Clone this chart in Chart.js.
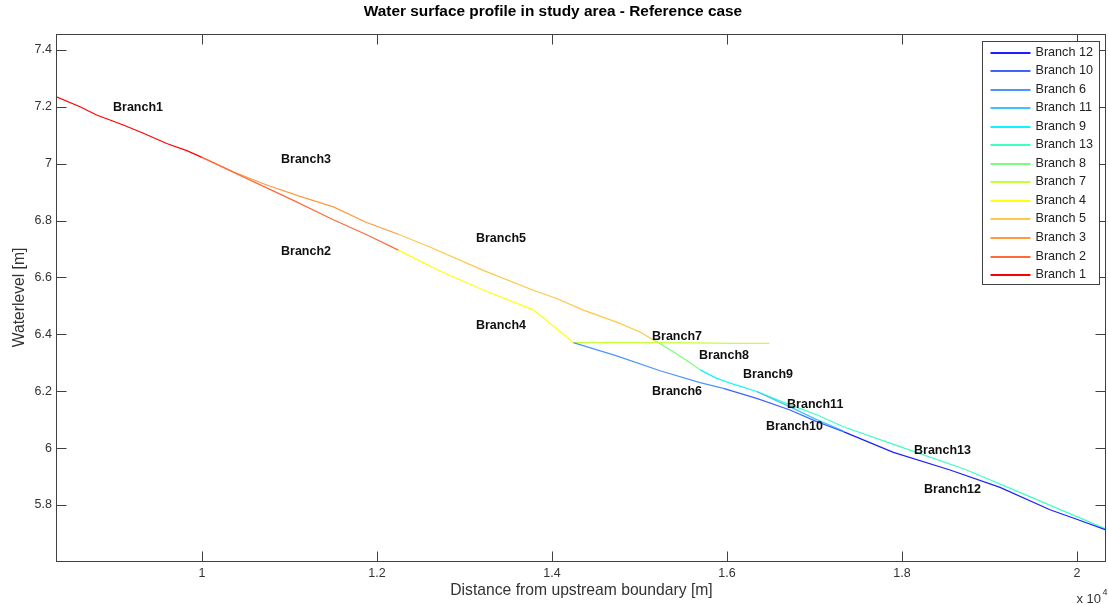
<!DOCTYPE html>
<html>
<head>
<meta charset="utf-8">
<script src="https://cdn.jsdelivr.net/npm/chart.js@4/dist/chart.umd.min.js"></script>
<style>
  html, body { margin: 0; padding: 0; background: #fff; }
  #wrap { width: 1108px; height: 604px; }
</style>
</head>
<body>
<div id="wrap"><canvas id="profileChart"></canvas></div>
<script>
// distance [m] / water level [m] per branch
const branch1X = [8343, 8606, 8796, 9101, 9330, 9597, 9826, 10000];
const branch1Y = [7.234, 7.200, 7.171, 7.136, 7.107, 7.071, 7.046, 7.022];
const branch2X = [10000, 10587, 11050, 11501, 11883, 12244];
const branch2Y = [7.022, 6.937, 6.870, 6.803, 6.750, 6.696];
const branch3X = [10000, 10370, 10740, 11120, 11501, 11882, 12244];
const branch3Y = [7.022, 6.970, 6.925, 6.885, 6.848, 6.793, 6.752];
const branch4X = [12244, 12700, 13215, 13786, 14091, 14244];
const branch4Y = [6.696, 6.625, 6.556, 6.486, 6.410, 6.371];
const branch5X = [12244, 12644, 13215, 13786, 14053, 14358, 14739, 15006, 15197];
const branch5Y = [6.752, 6.702, 6.625, 6.555, 6.526, 6.485, 6.443, 6.408, 6.373];
const branch6X = [14244, 14739, 15235, 15692, 15958];
const branch6Y = [6.371, 6.324, 6.272, 6.230, 6.210];
const branch7X = [14244, 15000, 15600, 16100, 16484];
const branch7Y = [6.371, 6.371, 6.370, 6.368, 6.368];
const branch8X = [15197, 15387, 15577, 15692];
const branch8Y = [6.374, 6.339, 6.300, 6.275];
const branch9X = [15692, 15882, 16100, 16339];
const branch9Y = [6.275, 6.245, 6.222, 6.199];
const branch10X = [15958, 16339, 16720, 17025, 17330];
const branch10Y = [6.210, 6.175, 6.134, 6.093, 6.058];
const branch11X = [16339, 16720, 17025, 17330];
const branch11Y = [6.199, 6.145, 6.100, 6.060];
const branch12X = [17330, 17901, 18549, 19120, 19691, 19996, 20331];
const branch12Y = [6.058, 5.985, 5.923, 5.862, 5.783, 5.750, 5.712];
const branch13X = [16339, 16720, 17025, 17330, 17977, 18740, 19500, 19996, 20331];
const branch13Y = [6.199, 6.152, 6.117, 6.075, 6.005, 5.923, 5.824, 5.759, 5.716];

const branchNames = ['Branch 1', 'Branch 2', 'Branch 3', 'Branch 4', 'Branch 5', 'Branch 6', 'Branch 7',
  'Branch 8', 'Branch 9', 'Branch 10', 'Branch 11', 'Branch 12', 'Branch 13'];
const branchXs = [branch1X, branch2X, branch3X, branch4X, branch5X, branch6X, branch7X,
  branch8X, branch9X, branch10X, branch11X, branch12X, branch13X];
const branchYs = [branch1Y, branch2Y, branch3Y, branch4Y, branch5Y, branch6Y, branch7Y,
  branch8Y, branch9Y, branch10Y, branch11Y, branch12Y, branch13Y];
const legendOrder = [12, 10, 6, 11, 9, 13, 8, 7, 4, 5, 3, 2, 1];

// text labels in the plot, at data coordinates
const labelText = ['Branch1', 'Branch3', 'Branch2', 'Branch5', 'Branch4', 'Branch7', 'Branch8',
  'Branch9', 'Branch6', 'Branch11', 'Branch10', 'Branch13', 'Branch12'];
const labelX = [8983, 10903, 10903, 13131, 13131, 15143, 15680, 16183, 15143, 16686, 16446, 18137, 18251];
const labelY = [7.199, 7.013, 6.692, 6.738, 6.432, 6.393, 6.326, 6.259, 6.199, 6.154, 6.076, 5.992, 5.854];

const xTicks = [10000, 12000, 14000, 16000, 18000, 20000];
const yTicks = [5.8, 6, 6.2, 6.4, 6.6, 6.8, 7, 7.2, 7.4];

const colors = {
  1: '#ff0000', 2: '#ff6a3c', 3: '#ff9a40', 4: '#ffff10', 5: '#ffc848',
  6: '#4a94ff', 7: '#c4ff3a', 8: '#78ff78', 9: '#10f4ff', 10: '#3c64ff',
  11: '#40c0ff', 12: '#1e1eff', 13: '#3cffc4'
};

Chart.defaults.font.family = "'Liberation Sans', Arial, sans-serif";
Chart.defaults.color = '#333';

const datasets = branchNames.map((name, i) => ({
  label: name,
  data: branchXs[i].map((x, j) => ({ x: x, y: branchYs[i][j] })),
  borderColor: colors[i + 1],
  backgroundColor: colors[i + 1],
  borderWidth: 1.2,
  pointRadius: 0,
  tension: 0,
  fill: false
}));

const matlabAxes = {
  id: 'matlabAxes',
  afterDatasetsDraw(chart) {
    const { ctx, chartArea: a, scales: { x, y } } = chart;
    ctx.save();
    // branch names
    ctx.fillStyle = '#111';
    ctx.font = "bold 12.5px 'Liberation Sans', Arial, sans-serif";
    ctx.textAlign = 'left';
    ctx.textBaseline = 'middle';
    labelText.forEach((t, i) => {
      ctx.fillText(t, x.getPixelForValue(labelX[i]), y.getPixelForValue(labelY[i]));
    });
    // box and inward ticks
    ctx.strokeStyle = '#404040';
    ctx.lineWidth = 1;
    const L = Math.round(a.left) - 0.5, R = Math.round(a.right) - 0.5;
    const T = Math.round(a.top) + 0.5, B = Math.round(a.bottom) + 0.5;
    ctx.strokeRect(L, T, R - L, B - T);
    ctx.beginPath();
    xTicks.forEach(v => {
      const px = Math.round(x.getPixelForValue(v)) + 0.5;
      ctx.moveTo(px, B); ctx.lineTo(px, B - 10);
      ctx.moveTo(px, T); ctx.lineTo(px, T + 10);
    });
    yTicks.forEach(v => {
      const py = Math.round(y.getPixelForValue(v)) + 0.5;
      ctx.moveTo(L, py); ctx.lineTo(L + 10, py);
      ctx.moveTo(R, py); ctx.lineTo(R - 10, py);
    });
    ctx.stroke();
    // legend box
    const bx = R - 123, by = T + 7, bw = 117, bh = 243;
    ctx.fillStyle = '#fff';
    ctx.fillRect(bx, by, bw, bh);
    ctx.strokeRect(bx, by, bw, bh);
    ctx.font = "12.6px 'Liberation Sans', Arial, sans-serif";
    ctx.textBaseline = 'middle';
    legendOrder.forEach((n, i) => {
      const ds = chart.data.datasets[n - 1];
      const ly = Math.round(by + 11 + i * 18.55);
      ctx.strokeStyle = ds.borderColor;
      ctx.lineWidth = 2;
      ctx.beginPath();
      ctx.moveTo(bx + 8, ly); ctx.lineTo(bx + 48, ly);
      ctx.stroke();
      ctx.fillStyle = '#222';
      ctx.fillText(ds.label, bx + 53, ly);
    });
    // exponent note
    ctx.fillStyle = '#333';
    ctx.font = "13px 'Liberation Sans', Arial, sans-serif";
    ctx.textBaseline = 'alphabetic';
    ctx.fillText('x 10', R - 29, 603);
    ctx.font = "9px 'Liberation Sans', Arial, sans-serif";
    ctx.fillText('4', R - 3, 595);
    ctx.restore();
  }
};

new Chart(document.getElementById('profileChart'), {
  type: 'line',
  data: { datasets: datasets },
  options: {
    responsive: true,
    maintainAspectRatio: false,
    animation: false,
    parsing: false,
    layout: { padding: { left: 0, right: 2, top: 0, bottom: 0 } },
    plugins: {
      legend: { display: false },
      tooltip: { enabled: false },
      title: {
        display: true,
        text: 'Water surface profile in study area - Reference case',
        color: '#000',
        font: { size: 15.4, weight: 'bold' },
        padding: { top: 3, bottom: 12.5 }
      }
    },
    scales: {
      x: {
        type: 'linear',
        min: 8343,
        max: 20331,
        grid: { display: false, drawTicks: false },
        border: { display: false },
        afterBuildTicks: s => { s.ticks = xTicks.map(v => ({ value: v })); },
        ticks: { padding: 5, font: { size: 12.5 }, color: '#333', callback: v => String(v / 10000) },
        title: {
          display: true,
          text: 'Distance from upstream boundary [m]',
          color: '#333',
          font: { size: 15.7 },
          padding: { top: 0, bottom: 3.6 }
        },
        afterFit: s => { s.height = 43; }
      },
      y: {
        type: 'linear',
        min: 5.603,
        max: 7.456,
        grid: { display: false, drawTicks: false },
        border: { display: false },
        afterBuildTicks: s => { s.ticks = yTicks.map(v => ({ value: v })); },
        ticks: { padding: 5, font: { size: 12.5 }, color: '#333', callback: v => String(parseFloat(v.toFixed(2))) },
        title: {
          display: true,
          text: 'Waterlevel [m]',
          color: '#333',
          font: { size: 15.7 },
          padding: { top: 10.6, bottom: 0 }
        },
        afterFit: s => { s.width = 57; }
      }
    }
  },
  plugins: [matlabAxes]
});
</script>
</body>
</html>
